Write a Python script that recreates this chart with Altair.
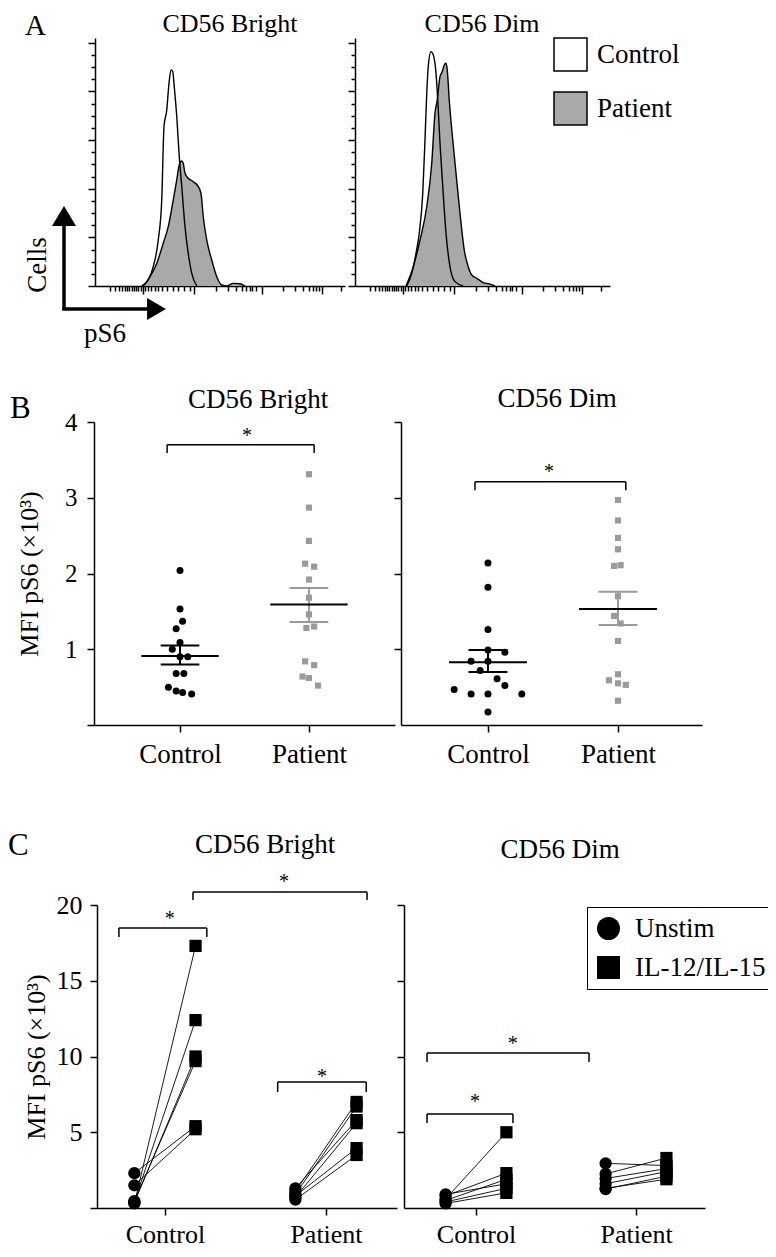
import json
import altair as alt
import pandas as pd

FONT = "Liberation Serif"
INK = "#000000"
GRAY_FILL = "#a9a9ab"
GRAY_PT = "#9a9a9a"

GROUPS = ["Control", "Patient"]
CONDS = ["Unstim", "IL-12/IL-15"]
SUBSETS = ["CD56 Bright", "CD56 Dim"]
Y_TITLE = "MFI pS6 (×10³)"

# ---------------- Panel A: pS6 histograms (x: channel position 0-100, y: % of max) ----
A_BRIGHT_CTRL_X = [18.7, 21.3, 23.3, 25.3, 26.7, 27.6, 28.7, 29.6, 30.4, 31.1, 31.7, 32.7, 33.7, 34.7, 36.0, 37.3, 38.7, 40.7]
A_BRIGHT_CTRL_Y = [0, 2.5, 7.9, 18.9, 35.4, 65.6, 72.4, 83.4, 88.9, 88.2, 82.0, 69.7, 53.2, 40.9, 24.4, 13.4, 5.2, 0]
A_BRIGHT_PAT_X = [19.3, 22.0, 24.7, 27.3, 29.3, 31.3, 32.7, 33.7, 34.7, 35.3, 36.0, 37.3, 39.3, 41.3, 42.4, 43.3, 44.7, 46.7, 48.7, 50.7, 52.7, 55.3, 58.0, 60.0]
A_BRIGHT_PAT_Y = [0, 3.8, 9.3, 17.6, 24.4, 35.4, 43.6, 49.8, 51.4, 50.5, 46.4, 44.3, 42.9, 40.9, 38.1, 28.5, 18.9, 10.7, 3.8, 0.4, 0, 1.1, 0.9, 0]
A_DIM_CTRL_X = [20.7, 22.7, 24.4, 25.7, 27.1, 28.0, 28.7, 29.3, 30.4, 31.3, 32.4, 33.1, 34.0, 35.1, 36.4, 38.0, 40.0, 43.3]
A_DIM_CTRL_Y = [0, 5.2, 13.4, 21.7, 38.1, 60.1, 79.3, 90.3, 96.4, 95.1, 87.5, 76.5, 58.7, 40.9, 21.7, 7.9, 1.8, 0]
A_DIM_PAT_X = [20.4, 23.3, 26.0, 28.7, 30.7, 32.0, 32.9, 34.0, 34.9, 35.7, 36.4, 36.9, 37.7, 39.1, 40.4, 42.0, 43.7, 45.3, 46.7, 48.7, 51.3, 54.0, 56.0]
A_DIM_PAT_Y = [0, 7.9, 18.9, 32.6, 50.5, 71.1, 76.5, 86.1, 88.2, 90.9, 91.6, 88.9, 76.5, 60.1, 46.4, 29.9, 14.8, 7.9, 4.5, 3.2, 1.4, 0.8, 0]
A_X_TICKS = [5.9, 7.9, 9.5, 10.8, 11.9, 12.8, 13.7, 14.7, 15.5, 16.5, 17.2, 18.3, 19.2, 20.1, 21.2,
             22.5, 23.9, 25.2, 26.8, 28.8, 31.2, 33.2, 35.6, 37.9, 39.6, 48.3, 53.2, 56.5, 58.8,
             60.5, 61.9, 62.9, 64.3, 66.8, 75.2, 79.9, 83.2, 85.5, 87.2, 88.5, 89.6, 90.8, 98.5]
A_X_MAJOR = [19.2, 39.6, 66.8, 90.8]
A_Y_TICKS = list(range(0, 101, 5))

# ---------------- Panel B: MFI pS6 (x10^3), individual donors --------------------------
B_BRIGHT_CTRL = [2.04, 1.53, 1.37, 1.27, 1.09, 1.00, 0.90, 0.90, 0.68, 0.68, 0.50, 0.45, 0.43, 0.41]
B_BRIGHT_CTRL_JIT = [0, 0, 0.02, -0.03, 0, -0.06, 0, 0.06, -0.03, 0.03, -0.09, -0.03, 0.02, 0.09]
B_BRIGHT_PAT = [3.31, 2.87, 2.43, 2.13, 2.09, 1.92, 1.68, 1.46, 1.28, 1.30, 0.84, 0.79, 0.64, 0.62, 0.52]
B_BRIGHT_PAT_JIT = [0, 0, 0, -0.03, 0.04, 0, 0, 0, -0.02, 0.04, -0.03, 0.04, -0.05, 0, 0.07]
B_DIM_CTRL = [2.14, 1.82, 1.26, 0.99, 0.96, 0.84, 0.84, 0.72, 0.61, 0.52, 0.47, 0.41, 0.41, 0.41, 0.17]
B_DIM_CTRL_JIT = [0, 0, 0, 0, 0.13, -0.13, 0, -0.06, 0.07, 0.13, -0.26, -0.13, 0, 0.26, 0]
B_DIM_PAT = [2.97, 2.70, 2.47, 2.32, 2.10, 2.11, 1.70, 1.44, 1.34, 1.11, 0.67, 0.59, 0.55, 0.53, 0.32]
B_DIM_PAT_JIT = [0, 0, 0, 0, -0.03, 0.02, 0, -0.03, 0.02, 0, 0, -0.07, 0, 0.06, 0]
# mean, SEM low, SEM high  (Control, Patient)
B_BRIGHT_MEAN = [0.91, 1.59]
B_BRIGHT_SEM_LO = [0.80, 1.36]
B_BRIGHT_SEM_HI = [1.05, 1.81]
B_DIM_MEAN = [0.83, 1.53]
B_DIM_SEM_LO = [0.70, 1.32]
B_DIM_SEM_HI = [0.99, 1.76]
# significance brackets: x1, x2, y, y of end ticks, star x, star y
B_BRIGHT_BRACKETS = [[0.90, 2.04, 3.70, 3.59, 1.52, 3.87]]
B_DIM_BRACKETS = [[0.90, 2.06, 3.21, 3.10, 1.47, 3.39]]

# ---------------- Panel C: paired Unstim vs IL-12/IL-15 ------------------------------
C_BRIGHT_CTRL_UNSTIM = [0.30, 0.40, 0.35, 0.45, 2.30, 1.50]
C_BRIGHT_CTRL_STIM = [17.3, 12.4, 10.0, 9.7, 5.4, 5.2]
C_BRIGHT_PAT_UNSTIM = [1.1, 0.9, 1.3, 0.7, 0.8, 0.55]
C_BRIGHT_PAT_STIM = [7.0, 6.7, 5.8, 5.6, 3.95, 3.5]
C_DIM_CTRL_UNSTIM = [0.6, 0.8, 0.5, 0.9, 0.4, 0.3]
C_DIM_CTRL_STIM = [5.0, 2.3, 1.9, 1.6, 1.3, 1.0]
C_DIM_PAT_UNSTIM = [2.95, 2.25, 1.95, 1.6, 1.25, 1.3]
C_DIM_PAT_STIM = [2.8, 3.3, 2.6, 2.4, 2.1, 1.9]
C_BRIGHT_BRACKETS = [[0.714, 1.26, 18.48, 17.89, 1.03, 19.34],
                     [1.174, 2.255, 20.86, 20.33, 1.74, 21.78],
                     [1.70, 2.25, 8.32, 7.66, 1.975, 8.9]]
C_DIM_BRACKETS = [[0.694, 1.706, 10.23, 9.64, 1.23, 11.09],
                  [0.694, 1.231, 6.2, 5.61, 0.994, 7.26]]
C_DODGE = 0.19

# ---------------- layout (pixels of the drawing area) --------------------------------
W, H = 760, 1241
A_YR = [278, 30]
B_YR = [717, 414]
C_YR = [1200, 897]
A_BRIGHT_XR, A_DIM_XR = [87, 337], [347, 602]
B_BRIGHT_XR, B_DIM_XR = [86, 387], [393, 694]
C_BRIGHT_XR, C_DIM_XR = [89, 389], [396, 697]


def ax(**kw):
    base = dict(domainColor=INK, domainWidth=1.5, tickColor=INK, tickWidth=1.5, grid=False,
                labelFont=FONT, labelColor=INK, titleFont=FONT, titleColor=INK,
                titleFontWeight="normal")
    base.update(kw)
    return alt.Axis(**base)


def one():
    return alt.Chart(pd.DataFrame({"k": [0]}))


def text_at(text, x, y, size=27, align="center", baseline="alphabetic", angle=None):
    kw = dict(text=text, font=FONT, fontSize=size, align=align, baseline=baseline, color=INK)
    if angle is not None:
        kw["angle"] = angle
    return one().mark_text(**kw).encode(x=alt.value(x), y=alt.value(y))


def group_label_expr():
    return f"datum.value == 1 ? '{GROUPS[0]}' : (datum.value == 2 ? '{GROUPS[1]}' : '')"


# ------------------------------------------------------------------ panel A
def panel_a(cx, cy, px_, py_, xr, xmax, title, title_x, extras, legend):
    df = pd.DataFrame({
        "group": [GROUPS[0]] * len(cx) + [GROUPS[1]] * len(px_),
        "x": list(cx) + list(px_),
        "y": list(cy) + list(py_),
    })
    xtick = {"condition": {"test": "indexof(%s, datum.value) >= 0" % json.dumps(A_X_MAJOR), "value": 8}, "value": 5}
    ytick = {"condition": {"test": "datum.value % 20 == 0", "value": 7}, "value": 4}
    X = alt.X("x:Q", scale=alt.Scale(domain=[0, xmax], range=xr, nice=False, zero=False),
              axis=ax(orient="bottom", offset=A_YR[0] - H, values=A_X_TICKS, labels=False,
                      title=None, tickSize=xtick))
    Y = alt.Y("y:Q", stack=None, scale=alt.Scale(domain=[0, 102], range=A_YR, nice=False),
              axis=ax(orient="left", offset=-xr[0], values=A_Y_TICKS, labels=False, title=None,
                      tickSize=ytick))
    fill = alt.Fill("group:N", scale=alt.Scale(domain=GROUPS, range=["white", GRAY_FILL]), legend=legend)
    area = alt.Chart(df).mark_area(interpolate="monotone", opacity=1).encode(
        x=X, y=Y, y2=alt.Y2(datum=0), fill=fill)
    line = alt.Chart(df).mark_line(interpolate="monotone", color=INK, strokeWidth=1.4).encode(
        x=X, y=Y, detail="group:N")
    return alt.layer(area, line, text_at(title, title_x, 24, size=26), *extras)


arrows = [
    one().mark_rule(color=INK, strokeWidth=3.5).encode(x=alt.value(56), y=alt.value(216), y2=alt.value(302)),
    one().mark_rule(color=INK, strokeWidth=3.5).encode(x=alt.value(54.3), x2=alt.value(140), y=alt.value(301)),
    one().mark_point(shape="M0,-0.83L1,0.83L-1,0.83Z", size=576, filled=True, color=INK, opacity=1)
    .encode(x=alt.value(56), y=alt.value(208)),
    one().mark_point(shape="M0.86,0L-0.86,-1L-0.86,1Z", size=484, filled=True, color=INK, opacity=1)
    .encode(x=alt.value(148.5), y=alt.value(301)),
    text_at("Cells", 30, 257, size=27, baseline="middle", angle=270),
    text_at("pS6", 97, 334, size=27),
    text_at("A", 17, 27, size=29, align="left"),
]

legend_a = alt.Legend(orient="none", legendX=545, legendY=29, title=None, symbolType="square",
                      symbolSize=1089, symbolStrokeColor=INK, symbolStrokeWidth=1.5,
                      labelFont=FONT, labelFontSize=27, labelColor=INK, labelOffset=9,
                      rowPadding=15, padding=0, symbolOpacity=1)

a_bright = panel_a(A_BRIGHT_CTRL_X, A_BRIGHT_CTRL_Y, A_BRIGHT_PAT_X, A_BRIGHT_PAT_Y, A_BRIGHT_XR, 100,
                   SUBSETS[0], 222, arrows, None)
a_dim = panel_a(A_DIM_CTRL_X, A_DIM_CTRL_Y, A_DIM_PAT_X, A_DIM_PAT_Y, A_DIM_XR, 102,
                SUBSETS[1], 474, [], legend_a)


# ------------------------------------------------------------------ brackets helper
def bracket_layers(brackets, X, Y, size):
    bdf = pd.DataFrame(brackets, columns=["x1", "x2", "y", "yt", "sx", "sy"])
    base = alt.Chart(bdf)
    return [
        base.mark_rule(color=INK, strokeWidth=1.5).encode(x=X("x1"), x2="x2", y=Y("y")),
        base.mark_rule(color=INK, strokeWidth=1.5).encode(x=X("x1"), y=Y("y"), y2="yt"),
        base.mark_rule(color=INK, strokeWidth=1.5).encode(x=X("x2"), y=Y("y"), y2="yt"),
        base.mark_text(text="*", font=FONT, fontSize=size, color=INK, baseline="middle", dy=4)
        .encode(x=X("sx"), y=Y("sy")),
    ]


# ------------------------------------------------------------------ panel B
def panel_b(ctrl, ctrl_j, pat, pat_j, mean, lo, hi, brackets, xdom, xr, title, title_x, title_y,
            show_y, extras):
    yvals = [0, 1, 2, 3, 4] if show_y else [1, 2, 3, 4]

    def X(f):
        return alt.X(f"{f}:Q", scale=alt.Scale(domain=xdom, range=xr, nice=False, zero=False),
                     axis=ax(orient="bottom", offset=B_YR[0] - H, values=[1, 2],
                             labelExpr=group_label_expr(), tickSize=7, labelPadding=9,
                             labelFontSize=27, title=None))

    def Y(f):
        return alt.Y(f"{f}:Q", scale=alt.Scale(domain=[0, 4], range=B_YR, nice=False, zero=False),
                     axis=ax(orient="left", offset=-xr[0], values=yvals,
                             labelExpr="datum.value == 0 ? '' : datum.label",
                             labels=show_y, tickSize=7, labelPadding=10, labelFontSize=25,
                             title=Y_TITLE if show_y else None, titleFontSize=26, titlePadding=27,
                             titleBaseline="alphabetic", minExtent=30, maxExtent=30))

    cdf = pd.DataFrame({"x": [1 + j for j in ctrl_j], "v": ctrl})
    pdf = pd.DataFrame({"x": [2 + j for j in pat_j], "v": pat})
    sdf = pd.DataFrame({"x": [1, 2], "m": mean, "lo": lo, "hi": hi, "col": [INK, GRAY_PT]})
    sdf["m1"] = sdf["x"] - 0.30
    sdf["m2"] = sdf["x"] + 0.30
    sdf["c1"] = sdf["x"] - 0.15
    sdf["c2"] = sdf["x"] + 0.15
    s = alt.Chart(sdf)
    col = alt.Color("col:N", scale=None)
    layers = [
        alt.Chart(cdf).mark_circle(size=49, color=INK, opacity=1).encode(x=X("x"), y=Y("v")),
        alt.Chart(pdf).mark_square(size=38, color=GRAY_PT, opacity=1).encode(x=X("x"), y=Y("v")),
        s.mark_rule(strokeWidth=2).encode(x=X("x"), y=Y("lo"), y2="hi", color=col),
        s.mark_rule(strokeWidth=2).encode(x=X("c1"), x2="c2", y=Y("lo"), color=col),
        s.mark_rule(strokeWidth=2).encode(x=X("c1"), x2="c2", y=Y("hi"), color=col),
        s.mark_rule(strokeWidth=2, color=INK).encode(x=X("m1"), x2="m2", y=Y("m")),
    ] + bracket_layers(brackets, X, Y, 20) + [text_at(title, title_x, title_y)] + extras
    return alt.layer(*layers)


b_bright = panel_b(B_BRIGHT_CTRL, B_BRIGHT_CTRL_JIT, B_BRIGHT_PAT, B_BRIGHT_PAT_JIT,
                   B_BRIGHT_MEAN, B_BRIGHT_SEM_LO, B_BRIGHT_SEM_HI, B_BRIGHT_BRACKETS,
                   [0.333, 2.667], B_BRIGHT_XR, SUBSETS[0], 250, 400, True,
                   [text_at("B", 2, 410, size=31, align="left")])
b_dim = panel_b(B_DIM_CTRL, B_DIM_CTRL_JIT, B_DIM_PAT, B_DIM_PAT_JIT,
                B_DIM_MEAN, B_DIM_SEM_LO, B_DIM_SEM_HI, B_DIM_BRACKETS,
                [0.331, 2.646], B_DIM_XR, SUBSETS[1], 549, 399, False, [])


# ------------------------------------------------------------------ panel C
def panel_c(cu, cs, pu, ps, brackets, xdom, xr, title, title_x, title_y, show_y, legend, extras):
    yvals = [0, 5, 10, 15, 20] if show_y else [5, 10, 15, 20]

    def X(f):
        return alt.X(f"{f}:Q", scale=alt.Scale(domain=xdom, range=xr, nice=False, zero=False),
                     axis=ax(orient="bottom", offset=C_YR[0] - H, values=[1, 2],
                             labelExpr=group_label_expr(), tickSize=7, labelPadding=6,
                             labelFontSize=26, title=None))

    def Y(f):
        return alt.Y(f"{f}:Q", scale=alt.Scale(domain=[0, 20], range=C_YR, nice=False, zero=False),
                     axis=ax(orient="left", offset=-xr[0], values=yvals,
                             labelExpr="datum.value == 0 ? '' : datum.label",
                             labels=show_y, tickSize=7, labelPadding=8, labelFontSize=26,
                             title=Y_TITLE if show_y else None, titleFontSize=26, titlePadding=11,
                             titleBaseline="alphabetic", minExtent=42, maxExtent=42))

    rows = []
    for gi, (uns, stim) in enumerate([(cu, cs), (pu, ps)]):
        for i, (a, b) in enumerate(zip(uns, stim)):
            rows.append({"pair": f"{gi}-{i}", "cond": CONDS[0], "x": gi + 1 - C_DODGE, "v": a})
            rows.append({"pair": f"{gi}-{i}", "cond": CONDS[1], "x": gi + 1 + C_DODGE, "v": b})
    df = pd.DataFrame(rows)
    shape = alt.Shape("cond:N", scale=alt.Scale(domain=CONDS, range=["circle", "square"]), legend=legend)
    layers = [
        alt.Chart(df).mark_line(color=INK, strokeWidth=0.9).encode(x=X("x"), y=Y("v"), detail="pair:N"),
        alt.Chart(df).mark_point(filled=True, size=150, color=INK, opacity=1).encode(
            x=X("x"), y=Y("v"), shape=shape),
    ] + bracket_layers(brackets, X, Y, 20) + [text_at(title, title_x, title_y)] + extras
    return alt.layer(*layers)


legend_c = alt.Legend(orient="none", legendX=579, legendY=899, title=None, symbolSize=529,
                      symbolFillColor=INK, symbolStrokeColor=INK, symbolStrokeWidth=0,
                      labelFont=FONT, labelFontSize=27, labelColor=INK, labelOffset=13,
                      rowPadding=11, padding=8, strokeColor=INK, symbolOpacity=1)

c_bright = panel_c(C_BRIGHT_CTRL_UNSTIM, C_BRIGHT_CTRL_STIM, C_BRIGHT_PAT_UNSTIM, C_BRIGHT_PAT_STIM,
                   C_BRIGHT_BRACKETS, [0.578, 2.441], C_BRIGHT_XR, SUBSETS[0], 257, 845, True, None,
                   [text_at("C", 0, 847, size=31, align="left")])
c_dim = panel_c(C_DIM_CTRL_UNSTIM, C_DIM_CTRL_STIM, C_DIM_PAT_UNSTIM, C_DIM_PAT_STIM,
                C_DIM_BRACKETS, [0.55, 2.431], C_DIM_XR, SUBSETS[1], 552, 850, False, legend_c, [])

chart = (
    alt.layer(a_bright, a_dim, b_bright, b_dim, c_bright, c_dim)
    .resolve_scale(x="independent", y="independent", fill="independent", shape="independent")
    .resolve_axis(x="independent", y="independent")
    .properties(width=W, height=H, autosize=alt.AutoSizeParams(type="none"), padding=0)
    .configure_view(stroke=None)
)

chart.save("out.html", embed_options={"renderer": "svg", "actions": False})
